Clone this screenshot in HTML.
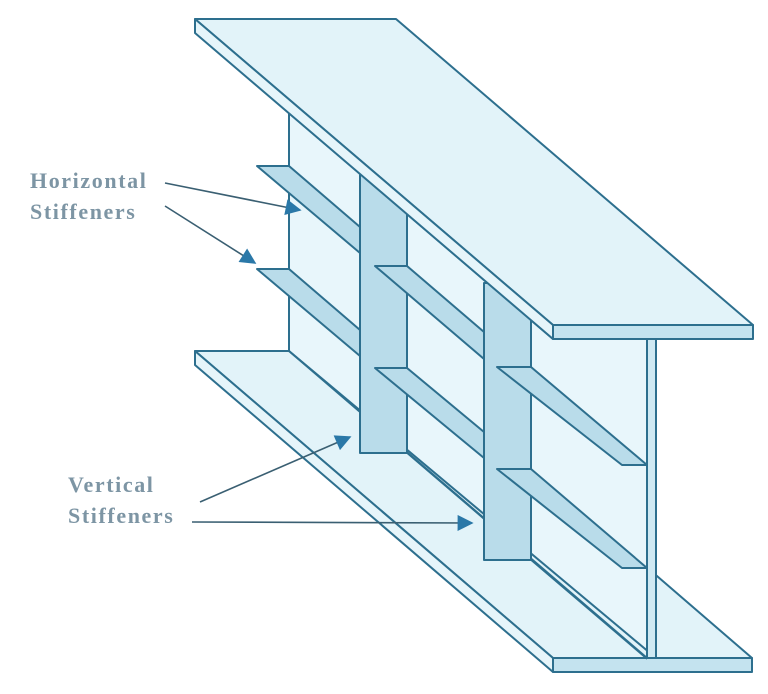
<!DOCTYPE html>
<html><head><meta charset="utf-8"><style>
html,body{margin:0;padding:0;background:#fff;}
svg{display:block;}
text{font-family:"Liberation Serif",serif;fill:#7d95a4;font-size:22px;font-weight:bold;letter-spacing:1.6px;}
</style></head><body>
<svg width="768" height="694" viewBox="0 0 768 694" xmlns="http://www.w3.org/2000/svg">
<defs>
<marker id="ah2" viewBox="0 0 10 10" refX="9" refY="5" markerWidth="18" markerHeight="16" orient="auto" markerUnits="userSpaceOnUse">
<path d="M0,0 L10,5 L0,10 z" fill="#2a78a8"/>
</marker>
</defs>
<g stroke="#2d6f8e" stroke-width="2" stroke-linejoin="round">
<polygon points="195,351 396,351 752,658 553,658" fill="#e2f3f9"/>
<polygon points="195,351 553,658 553,672 195,365" fill="#e6f5fa"/>
<rect x="553" y="658" width="199" height="14" fill="#c4e3ef"/>
<polygon points="289,113 553,339 656,339 656,658 289,351" fill="#e8f6fb"/>
<line x1="289" y1="351" x2="647" y2="658"/>
<line x1="407" y1="453" x2="484" y2="519" stroke-width="1.5"/>
<line x1="531" y1="560" x2="647" y2="659" stroke-width="1.5"/>
<polygon points="257,166 289,166 360,227 360,253" fill="#b9dcea"/>
<polygon points="257,269 289,269 360,330 360,356" fill="#b9dcea"/>
<rect x="360" y="175" width="47" height="278" fill="#b9dcea"/>
<polygon points="375,266 407,266 484,332 484,359" fill="#b9dcea"/>
<polygon points="375,368 407,368 484,432 484,458" fill="#b9dcea"/>
<rect x="484" y="283" width="47" height="277" fill="#b9dcea"/>
<polygon points="497,367 531,367 647,465 622,465" fill="#b9dcea"/>
<polygon points="497,469 531,469 647,568 622,568" fill="#b9dcea"/>
<rect x="647" y="339" width="9" height="319" fill="#cfe9f3"/>
<polygon points="195,19 396,19 753,325 553,325" fill="#e2f3f9"/>
<polygon points="195,19 553,325 553,339 195,33" fill="#e6f5fa"/>
<rect x="553" y="325" width="200" height="14" fill="#c4e3ef"/>
</g>
<g stroke="#3a5f72" stroke-width="1.6" fill="none">
<line x1="165" y1="183" x2="300" y2="210" marker-end="url(#ah2)"/>
<line x1="165" y1="206" x2="255" y2="263" marker-end="url(#ah2)"/>
<line x1="200" y1="502" x2="350" y2="437" marker-end="url(#ah2)"/>
<line x1="192" y1="522" x2="472" y2="523" marker-end="url(#ah2)"/>
</g>
<text x="30" y="188">Horizontal</text>
<text x="30" y="219">Stiffeners</text>
<text x="68" y="492">Vertical</text>
<text x="68" y="523">Stiffeners</text>
</svg>
</body></html>
